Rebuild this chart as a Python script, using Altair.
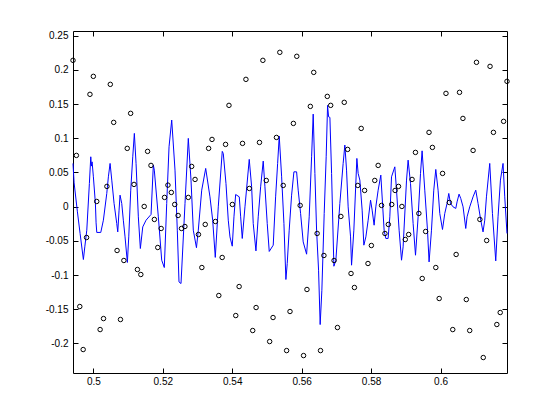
import altair as alt
import pandas as pd

# axis limits and ticks
x_lo, x_hi = 506 / 1024, 634 / 1024
y_lo, y_hi = -0.2432, 0.2568
x_ticks = [0.5, 0.52, 0.54, 0.56, 0.58, 0.6]
y_ticks = [-0.2, -0.15, -0.1, -0.05, 0, 0.05, 0.1, 0.15, 0.2, 0.25]

# sampled points (circles), one every 1/1024 s
sample_t = [n / 1024 for n in range(506, 635)]
sample_v = [
    0.2139, 0.0749, -0.1460, -0.2089, -0.0451, 0.1642, 0.1905, 0.0076, -0.1797, -0.1636,
    0.0296, 0.1788, 0.1232, -0.0641, -0.1650, -0.0787, 0.0852, 0.1364, 0.0325, -0.0919,
    -0.0992, 0.0003, 0.0808, 0.0603, -0.0187, -0.0597, -0.0319, 0.0135, 0.0315, 0.0208,
    0.0032, -0.0129, -0.0319, -0.0290, 0.0135, 0.0588, 0.0398, -0.0407, -0.0890, -0.0260,
    0.0852, 0.0983, -0.0217, -0.1299, -0.0743, 0.0910, 0.1481, 0.0032, -0.1592, -0.1168,
    0.0925, 0.1861, 0.0266, -0.1811, -0.1475, 0.0939, 0.2139, 0.0383, -0.1972, -0.1621,
    0.1012, 0.2256, 0.0310, -0.2104, -0.1533, 0.1217, 0.2198, 0.0018, -0.2177, -0.1211,
    0.1466, 0.1963, -0.0392, -0.2104, -0.0714, 0.1612, 0.1481, -0.0787, -0.1767, -0.0143,
    0.1525, 0.0837, -0.0977, -0.1182, 0.0310, 0.1144, 0.0237, -0.0831, -0.0568, 0.0383,
    0.0603, 0.0018, -0.0392, -0.0260, 0.0032, 0.0237, 0.0296, 0.0003, -0.0480, -0.0407,
    0.0398, 0.0793, -0.0099, -0.1050, -0.0363, 0.1086, 0.0866, -0.0890, -0.1343, 0.0486,
    0.1656, 0.0061, -0.1797, -0.0699, 0.1671, 0.1290, -0.1358, -0.1811, 0.0822, 0.2110,
    -0.0187, -0.2206, -0.0495, 0.2051, 0.1086, -0.1723, -0.1548, 0.1247, 0.1832,
]

# continuous signal (blue line)
line_t = [
    0.49414, 0.49446, 0.49541, 0.49618, 0.49713, 0.49754, 0.49811, 0.49886, 0.49926, 0.49944,
    0.49964, 0.50001, 0.50059, 0.50079, 0.50099, 0.50214, 0.50289, 0.50387, 0.50433, 0.50482,
    0.50531, 0.50597, 0.50674, 0.50703, 0.50741, 0.50769, 0.50818, 0.50864, 0.50913, 0.50980,
    0.51020, 0.51077, 0.51135, 0.51181, 0.51230, 0.51296, 0.51354, 0.51423, 0.51518, 0.51662,
    0.51728, 0.51756, 0.51872, 0.51969, 0.52044, 0.52113, 0.52180, 0.52257, 0.52352, 0.52418,
    0.52467, 0.52525, 0.52640, 0.52735, 0.52813, 0.52879, 0.52970, 0.53023, 0.53121, 0.53236,
    0.53359, 0.53437, 0.53512, 0.53598, 0.53713, 0.53742, 0.53820, 0.53886, 0.53935, 0.54001,
    0.54050, 0.54099, 0.54203, 0.54243, 0.54289, 0.54367, 0.54490, 0.54559, 0.54605, 0.54683,
    0.54749, 0.54818, 0.54893, 0.54942, 0.55008, 0.55066, 0.55181, 0.55250, 0.55308, 0.55354,
    0.55423, 0.55489, 0.55546, 0.55584, 0.55641, 0.55710, 0.55777, 0.55854, 0.55900, 0.55969,
    0.56044, 0.56142, 0.56217, 0.56286, 0.56332, 0.56381, 0.56430, 0.56487, 0.56533, 0.56582,
    0.56649, 0.56706, 0.56746, 0.56775, 0.56813, 0.56862, 0.56928, 0.56985, 0.57100, 0.57195,
    0.57244, 0.57293, 0.57339, 0.57408, 0.57437, 0.57503, 0.57590, 0.57627, 0.57676, 0.57742,
    0.57791, 0.57849, 0.57915, 0.57984, 0.58030, 0.58087, 0.58136, 0.58203, 0.58280, 0.58329,
    0.58375, 0.58424, 0.58490, 0.58539, 0.58588, 0.58683, 0.58732, 0.58807, 0.58876, 0.58922,
    0.59020, 0.59066, 0.59135, 0.59210, 0.59279, 0.59354, 0.59423, 0.59469, 0.59546, 0.59624,
    0.59670, 0.59739, 0.59805, 0.59863, 0.59929, 0.59978, 0.60056, 0.60122, 0.60188, 0.60237,
    0.60286, 0.60361, 0.60439, 0.60476, 0.60533, 0.60582, 0.60649, 0.60726, 0.60764, 0.60841,
    0.60936, 0.61014, 0.61080, 0.61158, 0.61224, 0.61273, 0.61322, 0.61417, 0.61495, 0.61590,
    0.61656, 0.61725, 0.61800, 0.61849, 0.61914,
]
line_v = [
    0.0632, 0.0348, -0.0076, -0.0392, -0.0773, -0.0588, -0.0344, 0.0339, 0.0729, 0.0593,
    0.0655, 0.0436, 0.0047, -0.0237, -0.0377, -0.0377, -0.0198, 0.0193, 0.0436, 0.0632,
    0.0388, 0.0047, -0.0246, -0.0369, -0.0051, 0.0168, 0.0047, -0.0198, -0.0442, -0.0816,
    -0.0442, 0.0241, 0.0729, 0.1071, 0.0632, -0.0149, -0.0612, -0.0296, -0.0198, -0.0114,
    0.0607, 0.0534, -0.0149, -0.0783, -0.0890, 0.0047, 0.0875, 0.1266, 0.0534, -0.0344,
    -0.1100, -0.1124, 0.0047, 0.0998, 0.0388, -0.0344, -0.0600, -0.0344, 0.0241, 0.0559,
    0.0143, -0.0198, -0.0742, -0.0003, 0.0808, 0.0778, 0.0339, -0.0198, -0.0442, -0.0578,
    -0.0149, 0.0178, 0.0143, -0.0149, -0.0465, -0.0003, 0.0691, 0.0290, -0.0246, -0.0647,
    -0.0149, 0.0290, 0.0666, 0.0290, -0.0246, -0.0655, -0.0563, 0.0143, 0.0632, 0.1031,
    0.0436, -0.0246, -0.1065, -0.0831, -0.0344, 0.0168, 0.0509, 0.0509, 0.0241, -0.0099,
    -0.0515, -0.0695, -0.0149, 0.0729, 0.1353, 0.0486, -0.0344, -0.0929, -0.1724, -0.1222,
    -0.0099, 0.0729, 0.1481, 0.1314, 0.1305, 0.0486, -0.0871, -0.0783, 0.0047, 0.0632,
    0.0900, 0.0534, -0.0003, -0.0442, -0.0856, -0.0344, 0.0705, 0.0486, 0.0388, -0.0051,
    -0.0563, -0.0442, -0.0198, 0.0095, -0.0051, -0.0271, -0.0003, 0.0241, 0.0461, 0.0047,
    -0.0344, -0.0465, -0.0465, -0.0149, 0.0436, 0.0582, 0.0241, -0.0344, -0.0783, -0.0588,
    0.0388, 0.0680, 0.0339, -0.0246, -0.0710, -0.0149, 0.0486, 0.0816, 0.0241, -0.0344,
    -0.0808, -0.0344, 0.0241, 0.0544, 0.0241, -0.0099, -0.0334, -0.0099, 0.0047, 0.0193,
    0.0047, -0.0003, -0.0026, 0.0070, 0.0183, 0.0120, -0.0003, -0.0319, -0.0149, -0.0003,
    0.0143, 0.0241, 0.0047, -0.0198, -0.0369, -0.0198, 0.0143, 0.0632, -0.0099, -0.0793,
    -0.0149, 0.0388, 0.0632, 0.0143, -0.0392,
]

df_line = pd.DataFrame({"t": line_t, "v": line_v})
df_pts = pd.DataFrame({"t": sample_t, "v": sample_v})

xs = alt.Scale(domain=[x_lo, x_hi], nice=False, zero=False)
ys = alt.Scale(domain=[y_lo, y_hi], nice=False, zero=False)

font = "Liberation Sans"
common = dict(
    grid=False, domain=False, tickColor="black", tickWidth=1, tickSize=5,
    offset=-5, labelFlush=False, labelOverlap=False, labelFont=font,
    labelFontSize=10, labelColor="black", title="",
)

line = alt.Chart(df_line).mark_line(color="#0000FF", strokeWidth=1).encode(
    x=alt.X("t:Q", scale=xs, axis=alt.Axis(orient="bottom", values=x_ticks,
            labelExpr="'' + datum.value", labelPadding=3, **common)),
    y=alt.Y("v:Q", scale=ys, axis=alt.Axis(orient="left", values=y_ticks,
            labelExpr="'' + datum.value", labelPadding=5, **common)),
)

pts = alt.Chart(df_pts).mark_point(shape="circle", filled=False, color="black",
                                   size=20, strokeWidth=1, opacity=1).encode(
    x=alt.X("t:Q", scale=xs, axis=alt.Axis(orient="top", values=x_ticks, labels=False, **common)),
    y=alt.Y("v:Q", scale=ys, axis=alt.Axis(orient="right", values=y_ticks, labels=False, **common)),
)

chart = (
    alt.layer(line, pts)
    .resolve_axis(x="independent", y="independent")
    .properties(
        width=434, height=342,
        padding={"left": 65, "top": 23, "right": 45, "bottom": 40},
        autosize=alt.AutoSizeParams(type="none"),
        background="white",
    )
    .configure_view(stroke="black", strokeWidth=1)
)

chart.save("out.html", embed_options={"renderer": "svg", "actions": False})
